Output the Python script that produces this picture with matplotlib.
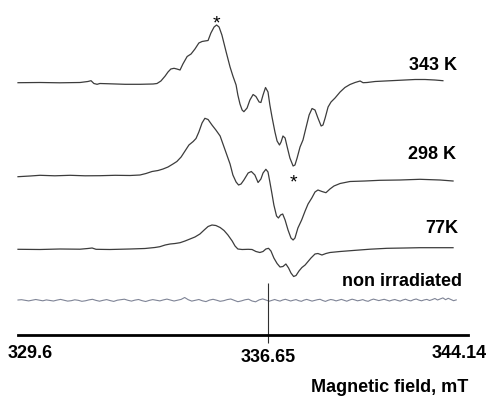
import numpy as np
import matplotlib
matplotlib.use("Agg")
import matplotlib.pyplot as plt

plt.rcParams['font.family'] = ['Liberation Sans', 'DejaVu Sans']

# ---- field axis (mT) ----
FIELD_TICKS = [329.6, 336.65, 344.14]
TICK_LABELS = ["329.6", "336.65", "344.14"]
CENTER_FIELD = 336.65

# ---- EPR spectra: field (mT) and first-derivative signal (a.u.) ----
field_343 = [329.60, 330.22, 330.78, 331.35, 331.57, 331.66, 331.74, 331.83, 331.91, 332.19,
             332.62, 333.04, 333.41, 333.52, 333.63, 333.75, 333.83, 333.91, 334.00, 334.08,
             334.17, 334.25, 334.37, 334.48, 334.59, 334.70, 334.79, 334.87, 334.96, 335.04,
             335.13, 335.20, 335.27, 335.35, 335.47, 335.58, 335.66, 335.75, 335.80, 335.86,
             335.92, 335.97, 336.06, 336.14, 336.23, 336.31, 336.40, 336.45, 336.51, 336.58,
             336.65, 336.72, 336.80, 336.91, 336.99, 337.08, 337.14, 337.21, 337.29, 337.36,
             337.47, 337.59, 337.66, 337.74, 337.85, 337.96, 338.07, 338.19, 338.30, 338.41,
             338.52, 338.64, 338.71, 338.79, 338.90, 339.01, 339.16, 339.35, 339.53, 339.72,
             339.91, 340.10, 340.21, 340.36, 340.66, 341.03, 341.41, 341.78, 342.16, 342.53,
             342.90, 343.20]
signal_343 = [0.0, 0.2, -0.1, 0.2, 1.2, 2.0, -0.8, -1.6, -0.8, -1.1,
              -1.6, -1.6, -1.3, -0.8, 1.7, 6.7, 10.7, 13.7, 14.4, 13.7,
              12.7, 18.7, 26.2, 28.7, 33.7, 39.7, 41.2, 41.7, 42.2, 49.7,
              55.7, 57.7, 55.7, 47.7, 30.7, 15.7, 6.7, -2.3, -12.3, -21.3,
              -27.3, -29.0, -25.3, -17.3, -11.8, -13.8, -19.3, -19.8, -12.3, -4.8,
              -9.3, -22.3, -34.3, -49.3, -58.3, -62.3, -59.3, -53.3, -55.3, -63.3,
              -75.3, -83.3, -82.3, -75.3, -64.3, -57.3, -45.3, -32.3, -25.8, -27.3,
              -35.3, -43.3, -42.3, -35.3, -24.3, -19.3, -15.3, -9.3, -4.8, -1.8,
              0.2, 1.7, 0.0, 0.2, 1.2, 1.7, 2.2, 2.7, 3.2, 3.2,
              2.7, 2.0]

field_298 = [329.60, 329.94, 330.22, 330.64, 331.07, 331.49, 331.91, 332.34, 332.76, 333.04,
             333.21, 333.38, 333.55, 333.69, 333.83, 333.97, 334.08, 334.20, 334.31, 334.42,
             334.54, 334.62, 334.70, 334.79, 334.87, 334.96, 335.07, 335.18, 335.30, 335.41,
             335.49, 335.58, 335.66, 335.75, 335.82, 335.89, 335.97, 336.09, 336.18, 336.28,
             336.37, 336.45, 336.51, 336.59, 336.65, 336.72, 336.80, 336.87, 336.97, 337.04,
             337.12, 337.20, 337.29, 337.40, 337.51, 337.59, 337.66, 337.77, 337.91, 338.04,
             338.15, 338.29, 338.41, 338.52, 338.67, 338.82, 338.97, 339.12, 339.35, 339.72,
             340.28, 340.84, 341.59, 342.34, 343.09, 343.58]
signal_298 = [-0.2, 0.5, 1.2, 0.7, 1.2, 0.7, 0.8, 1.2, 1.0, 1.5,
              3.0, 5.0, 6.0, 7.5, 9.5, 12.5, 15.0, 19.5, 25.5, 31.5,
              35.0, 38.0, 44.5, 53.5, 58.2, 57.0, 51.5, 46.5, 40.5, 29.5,
              21.5, 12.5, 1.5, -5.5, -8.5, -7.5, -3.5, 3.5, 5.0, 1.5,
              -6.0, -2.5, 3.5, 7.2, 4.5, -5.5, -17.5, -28.5, -39.5, -41.5,
              -38.5, -37.5, -43.5, -53.5, -61.5, -63.5, -61.5, -51.5, -43.5, -34.5,
              -27.5, -21.5, -15.5, -13.5, -15.0, -16.2, -12.5, -9.5, -7.0, -5.0,
              -4.5, -3.8, -3.5, -2.8, -3.5, -4.5]

field_77 = [329.60, 330.22, 330.78, 331.35, 331.57, 331.69, 331.80, 332.19, 332.76, 333.18,
            333.46, 333.60, 333.75, 333.89, 334.03, 334.17, 334.31, 334.45, 334.59, 334.73,
            334.85, 334.96, 335.07, 335.18, 335.30, 335.41, 335.52, 335.64, 335.72, 335.80,
            335.92, 336.09, 336.20, 336.31, 336.42, 336.51, 336.59, 336.67, 336.76, 336.87,
            336.99, 337.10, 337.21, 337.32, 337.42, 337.51, 337.61, 337.70, 337.81, 337.92,
            338.04, 338.15, 338.26, 338.41, 338.52, 338.67, 338.82, 338.97, 339.35, 339.83,
            340.47, 341.11, 341.78, 342.34, 343.09, 343.58]
signal_77 = [0.0, -0.2, 0.3, 0.1, 0.8, 1.3, 0.0, -0.2, 0.3, 0.8,
             1.8, 2.6, 4.3, 5.3, 5.8, 6.6, 8.3, 10.3, 12.3, 15.3,
             19.3, 22.8, 24.3, 23.8, 21.8, 18.8, 14.3, 8.3, 3.3, 0.3,
             -0.2, 0.0, -0.2, -2.2, -3.2, -2.2, 0.3, 1.0, -1.7, -8.7,
             -14.2, -17.7, -17.2, -14.7, -18.7, -23.7, -27.2, -26.2, -21.7, -18.2,
             -15.7, -12.2, -8.7, -4.7, -4.2, -5.7, -4.2, -3.2, -2.2, -1.2,
             0.1, 1.0, 1.3, 1.6, 1.6, 1.6]

# non irradiated sample: baseline noise, sweep sampled every 0.1 mT
field_blank = np.round(329.6 + 0.1 * np.arange(142), 2)
signal_blank = [0.5, 0.8, 0.2, -0.4, 0.3, 1.0, 0.4, -0.3, 0.6, 0.1,
                -0.5, 0.4, 1.1, 0.3, -0.6, -0.2, 0.7, 0.2, -0.8, -0.3,
                0.6, 1.2, 0.1, -0.7, 0.2, 0.9, -0.1, -0.9, 0.3, 0.8,
                1.3, 0.2, -0.6, 0.4, 1.0, -0.2, -1.0, 0.1, 0.9, 0.3,
                -0.4, 0.6, 1.4, 0.5, -0.5, 0.3, 1.1, 3.0, 0.8, -0.6,
                0.2, 1.0, -0.3, -1.1, 0.4, 1.2, 0.3, -0.8, -0.2, 0.9,
                1.5, 0.2, -1.2, -0.4, 0.7, 1.3, -0.5, -1.3, 0.6, 1.6,
                0.4, -0.7, 0.2, 1.0, 0.1, -0.6, 0.5, 1.2, 0.3, -0.5,
                0.3, 0.9, -0.2, -0.8, 0.4, 1.1, 0.2, -0.6, 0.1, 0.8,
                1.2, 0.0, -0.9, 0.2, 1.0, 0.5, -0.4, 0.3, 1.1, 0.2,
                -0.7, 0.4, 1.3, 0.6, -0.3, 0.2, 0.9, -0.2, -0.8, 0.5,
                1.4, 0.7, -0.1, 0.6, 1.2, 0.3, -0.5, 0.4, 1.0, 0.1,
                -0.6, 0.5, 1.3, 0.2, -0.4, 0.8, 1.5, 0.4, -0.3, 0.6,
                1.1, 0.0, 0.9, 2.0, 0.5, 1.6, 2.6, 0.8, 2.2, 1.0,
                -0.2, 0.6]

LABELS = ["343 K", "298 K", "77K", "non irradiated"]
OFFSETS = [252.3, 158.5, 85.7, 34.5]          # vertical stacking of the spectra
FIELDS = [field_343, field_298, field_77, field_blank]
SIGNALS = [signal_343, signal_298, signal_77, signal_blank]

# ---- figure ----
W, H = 487, 398
fig = plt.figure(figsize=(W / 100, H / 100), dpi=100)
fig.patch.set_facecolor("white")
ax = fig.add_axes([18 / W, 63 / H, 450 / W, 335 / H])


# piecewise-linear field ruler: the centre field sits at a fixed point of the axis
def _fwd(x):
    x = np.asarray(x, dtype=float)
    return np.where(x <= CENTER_FIELD, (x - FIELD_TICKS[0]) * (250 / (CENTER_FIELD - FIELD_TICKS[0])),
                    250 + (x - CENTER_FIELD) * (200 / (FIELD_TICKS[2] - CENTER_FIELD)))


def _inv(u):
    u = np.asarray(u, dtype=float)
    return np.where(u <= 250, FIELD_TICKS[0] + u * (CENTER_FIELD - FIELD_TICKS[0]) / 250,
                    CENTER_FIELD + (u - 250) * (FIELD_TICKS[2] - CENTER_FIELD) / 200)


ax.set_xscale("function", functions=(_fwd, _inv))
ax.set_xlim(FIELD_TICKS[0], FIELD_TICKS[2])
ax.set_ylim(0, 335)

for spine in ("left", "right", "top"):
    ax.spines[spine].set_visible(False)
ax.spines["bottom"].set_linewidth(2.0)
ax.spines["bottom"].set_color("black")
ax.set_xticks([])
ax.set_yticks([])
ax.patch.set_alpha(0)

# spectra
for lab, fld, sig, off in zip(LABELS, FIELDS, SIGNALS, OFFSETS):
    y = np.asarray(sig) + off
    if lab == "non irradiated":
        ax.plot(fld, y, color="#7f8496", lw=0.8, clip_on=False)
    else:
        ax.plot(fld, y, color="#3c3c3c", lw=0.9, clip_on=False)

# centre-field marker line
ax.vlines(CENTER_FIELD, -8, 52, color="#303030", lw=0.8, clip_on=False)

# asterisks on the main extrema of the 343 K spectrum
s343 = np.asarray(signal_343)
i_max, i_min = int(np.argmax(s343)), int(np.argmin(s343))
ax.annotate("*", xy=(field_343[i_max], s343[i_max] + OFFSETS[0]), xytext=(0, -2.4),
            textcoords="offset points", ha="center", va="baseline", fontsize=14)
ax.annotate("*", xy=(field_343[i_min], s343[i_min] + OFFSETS[0]), xytext=(0.5, -15.3),
            textcoords="offset points", ha="center", va="baseline", fontsize=14)

# field tick labels
bold = dict(fontsize=13, fontweight="bold", color="black", va="baseline")
ax.annotate(TICK_LABELS[0], xy=(FIELD_TICKS[0], 0), xytext=(-7.2, -16.8),
            textcoords="offset points", ha="left", annotation_clip=False, **bold)
ax.annotate(TICK_LABELS[1], xy=(FIELD_TICKS[1], 0), xytext=(0, -19.2),
            textcoords="offset points", ha="center", annotation_clip=False, **bold)
ax.annotate(TICK_LABELS[2], xy=(FIELD_TICKS[2], 0), xytext=(13.5, -16.8),
            textcoords="offset points", ha="right", annotation_clip=False, **bold)

# axis title
fig.text(468 / W, 1 - 392.5 / H, "Magnetic field, mT", ha="right", **bold)

# spectrum labels
label_pos = [(457, 70), (456, 159.3), (458, 233.3), (462, 286)]
for lab, (px, py) in zip(LABELS, label_pos):
    fig.text(px / W, 1 - py / H, lab, ha="right", **bold)

fig.savefig("out.png", dpi=100, facecolor="white")
